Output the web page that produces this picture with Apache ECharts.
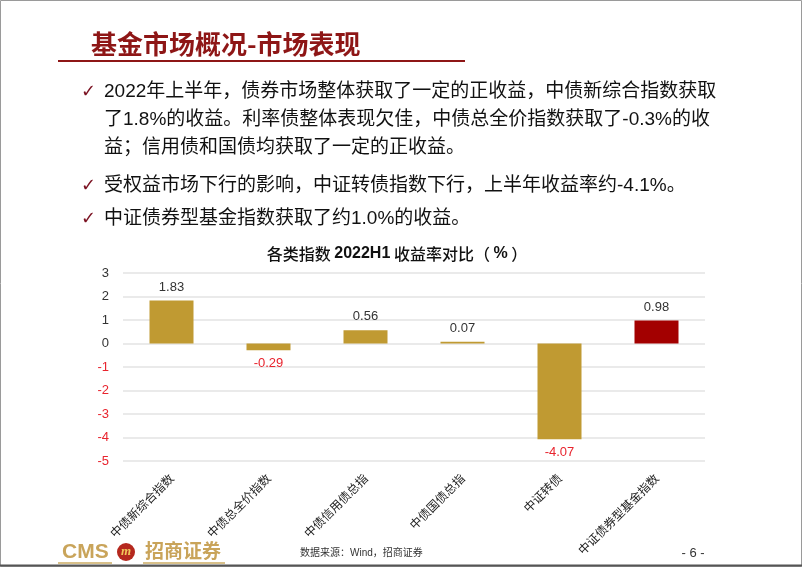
<!DOCTYPE html>
<html>
<head>
<meta charset="utf-8">
<script src="https://cdn.jsdelivr.net/npm/echarts@6/dist/echarts.min.js"></script>
<style>
html,body{margin:0;padding:0;background:#fff;}
#c{width:802px;height:567px;}
</style>
</head>
<body>
<div id="c"></div>
<script>
const categories = ['中债新综合指数','中债总全价指数','中债信用债总指','中债国债总指','中证转债','中证债券型基金指数'];
const values = [1.83, -0.29, 0.56, 0.07, -4.07, 0.98];
const highlightIndex = 5;
const yTicks = {min: -5, max: 3, interval: 1};
const slideTitle = '基金市场概况-市场表现';
const chartTitleParts = ['各类指数 ', '2022H1', ' 收益率对比（ ', '%', ' ）'];
const bullets = [
  ['2022年上半年，债券市场整体获取了一定的正收益，中债新综合指数获取', '了1.8%的收益。利率债整体表现欠佳，中债总全价指数获取了-0.3%的收', '益；信用债和国债均获取了一定的正收益。'],
  ['受权益市场下行的影响，中证转债指数下行，上半年收益率约-4.1%。'],
  ['中证债券型基金指数获取了约1.0%的收益。']
];
const sourceText = '数据来源：Wind，招商证券';
const pageText = '- 6 -';

const GOLD = '#C09A32';
const DARKRED = '#A30000';
const NEG = '#E8242E';
const FONT = '"Liberation Sans", Arial, "Noto Sans CJK SC", sans-serif';

const chart = echarts.init(document.getElementById('c'), null, {renderer: 'canvas'});

const graphics = [];
// frame
graphics.push({type:'rect', shape:{x:0.5,y:0.5,width:801,height:566}, style:{fill:'none', stroke:'#9a9a9a', lineWidth:1}, silent:true});
graphics.push({type:'line', shape:{x1:0,y1:565.5,x2:802,y2:565.5}, style:{stroke:'#555', lineWidth:2}});
// slide title
graphics.push({type:'text', x:91, y:44, style:{text: slideTitle, fill:'#8E1616', font:'bold 26px "Noto Sans CJK SC", sans-serif', textVerticalAlign:'middle'}});
graphics.push({type:'line', shape:{x1:58,y1:61,x2:465,y2:61}, style:{stroke:'#8E1616', lineWidth:2}});
// bullets
const lineYs = [[92,120,148],[186],[219]];
bullets.forEach((b, i) => {
  graphics.push({type:'text', x:81, y:lineYs[i][0], style:{text:'✓', fill:'#7A1020', font:'bold 18px "DejaVu Sans", sans-serif', textVerticalAlign:'middle'}});
  b.forEach((ln, j) => {
    graphics.push({type:'text', x:104, y:lineYs[i][j], style:{text: ln, fill:'#111', font:'19px ' + FONT, textVerticalAlign:'middle'}});
  });
});
// chart title
graphics.push({type:'text', x:397, y:254, style:{
  text: '{a|' + chartTitleParts[0] + '}{b|' + chartTitleParts[1] + '}{a|' + chartTitleParts[2] + '}{b|' + chartTitleParts[3] + '}{a|' + chartTitleParts[4] + '}',
  rich: {
    a: {fill:'#111', font:'500 16px "Noto Sans CJK SC", sans-serif'},
    b: {fill:'#111', font:'bold 16px "Liberation Sans", Arial, sans-serif'}
  },
  textAlign:'center', textVerticalAlign:'middle'}});
// footer logo
graphics.push({type:'text', x:62, y:552, style:{text:'CMS', fill:'#C9A45A', font:'bold 21px "Liberation Sans", Arial, sans-serif', textVerticalAlign:'middle'}});
graphics.push({type:'circle', shape:{cx:126,cy:552,r:9}, style:{fill:'#B5281E'}});
graphics.push({type:'text', x:126, y:552, style:{text:'m', fill:'#F1C75A', font:'italic bold 13px "Liberation Serif", serif', textAlign:'center', textVerticalAlign:'middle'}});
graphics.push({type:'text', x:145, y:551, style:{text:'招商证券', fill:'#C9A45A', font:'bold 19px "Noto Sans CJK SC", sans-serif', textVerticalAlign:'middle'}});
graphics.push({type:'line', shape:{x1:58,y1:563,x2:112,y2:563}, style:{stroke:'#D8C08A', lineWidth:2}});
graphics.push({type:'line', shape:{x1:143,y1:563,x2:225,y2:563}, style:{stroke:'#D8C08A', lineWidth:2}});
graphics.push({type:'text', x:300, y:553, style:{text: sourceText, fill:'#333', font:'10px ' + FONT, textVerticalAlign:'middle'}});
graphics.push({type:'text', x:693, y:553, style:{text: pageText, fill:'#333', font:'13px ' + FONT, textAlign:'center', textVerticalAlign:'middle'}});

chart.setOption({
  animation: false,
  backgroundColor: '#fff',
  grid: {left: 123, right: 97, top: 273, bottom: 106, containLabel: false},
  xAxis: {
    type: 'category',
    data: categories,
    axisLine: {show: false},
    axisTick: {show: false},
    axisLabel: {rotate: 45, fontSize: 12, color: '#222', margin: 15, interval: 0, fontFamily: '"Noto Sans CJK SC", sans-serif'}
  },
  yAxis: {
    type: 'value',
    min: yTicks.min, max: yTicks.max, interval: yTicks.interval,
    axisLine: {show: false},
    axisTick: {show: false},
    splitLine: {lineStyle: {color: '#e3e3e3', width: 1.5}},
    axisLabel: {
      margin: 14,
      fontSize: 13,
      fontFamily: FONT,
      formatter: v => v < 0 ? '{n|' + v + '}' : '{p|' + v + '}',
      rich: {n: {color: NEG, fontSize: 13, fontFamily: FONT}, p: {color: '#333', fontSize: 13, fontFamily: FONT}}
    }
  },
  series: [{
    type: 'bar',
    barWidth: 44,
    data: values.map((v, i) => ({
      value: v,
      itemStyle: {color: i === highlightIndex ? DARKRED : GOLD},
      label: {
        show: true,
        position: v < 0 ? 'bottom' : 'top',
        distance: 7,
        color: v < 0 ? NEG : '#333',
        fontSize: 13,
        fontFamily: FONT,
        formatter: p => p.value.toFixed(2)
      }
    }))
  }],
  graphic: graphics
});
</script>
</body>
</html>
